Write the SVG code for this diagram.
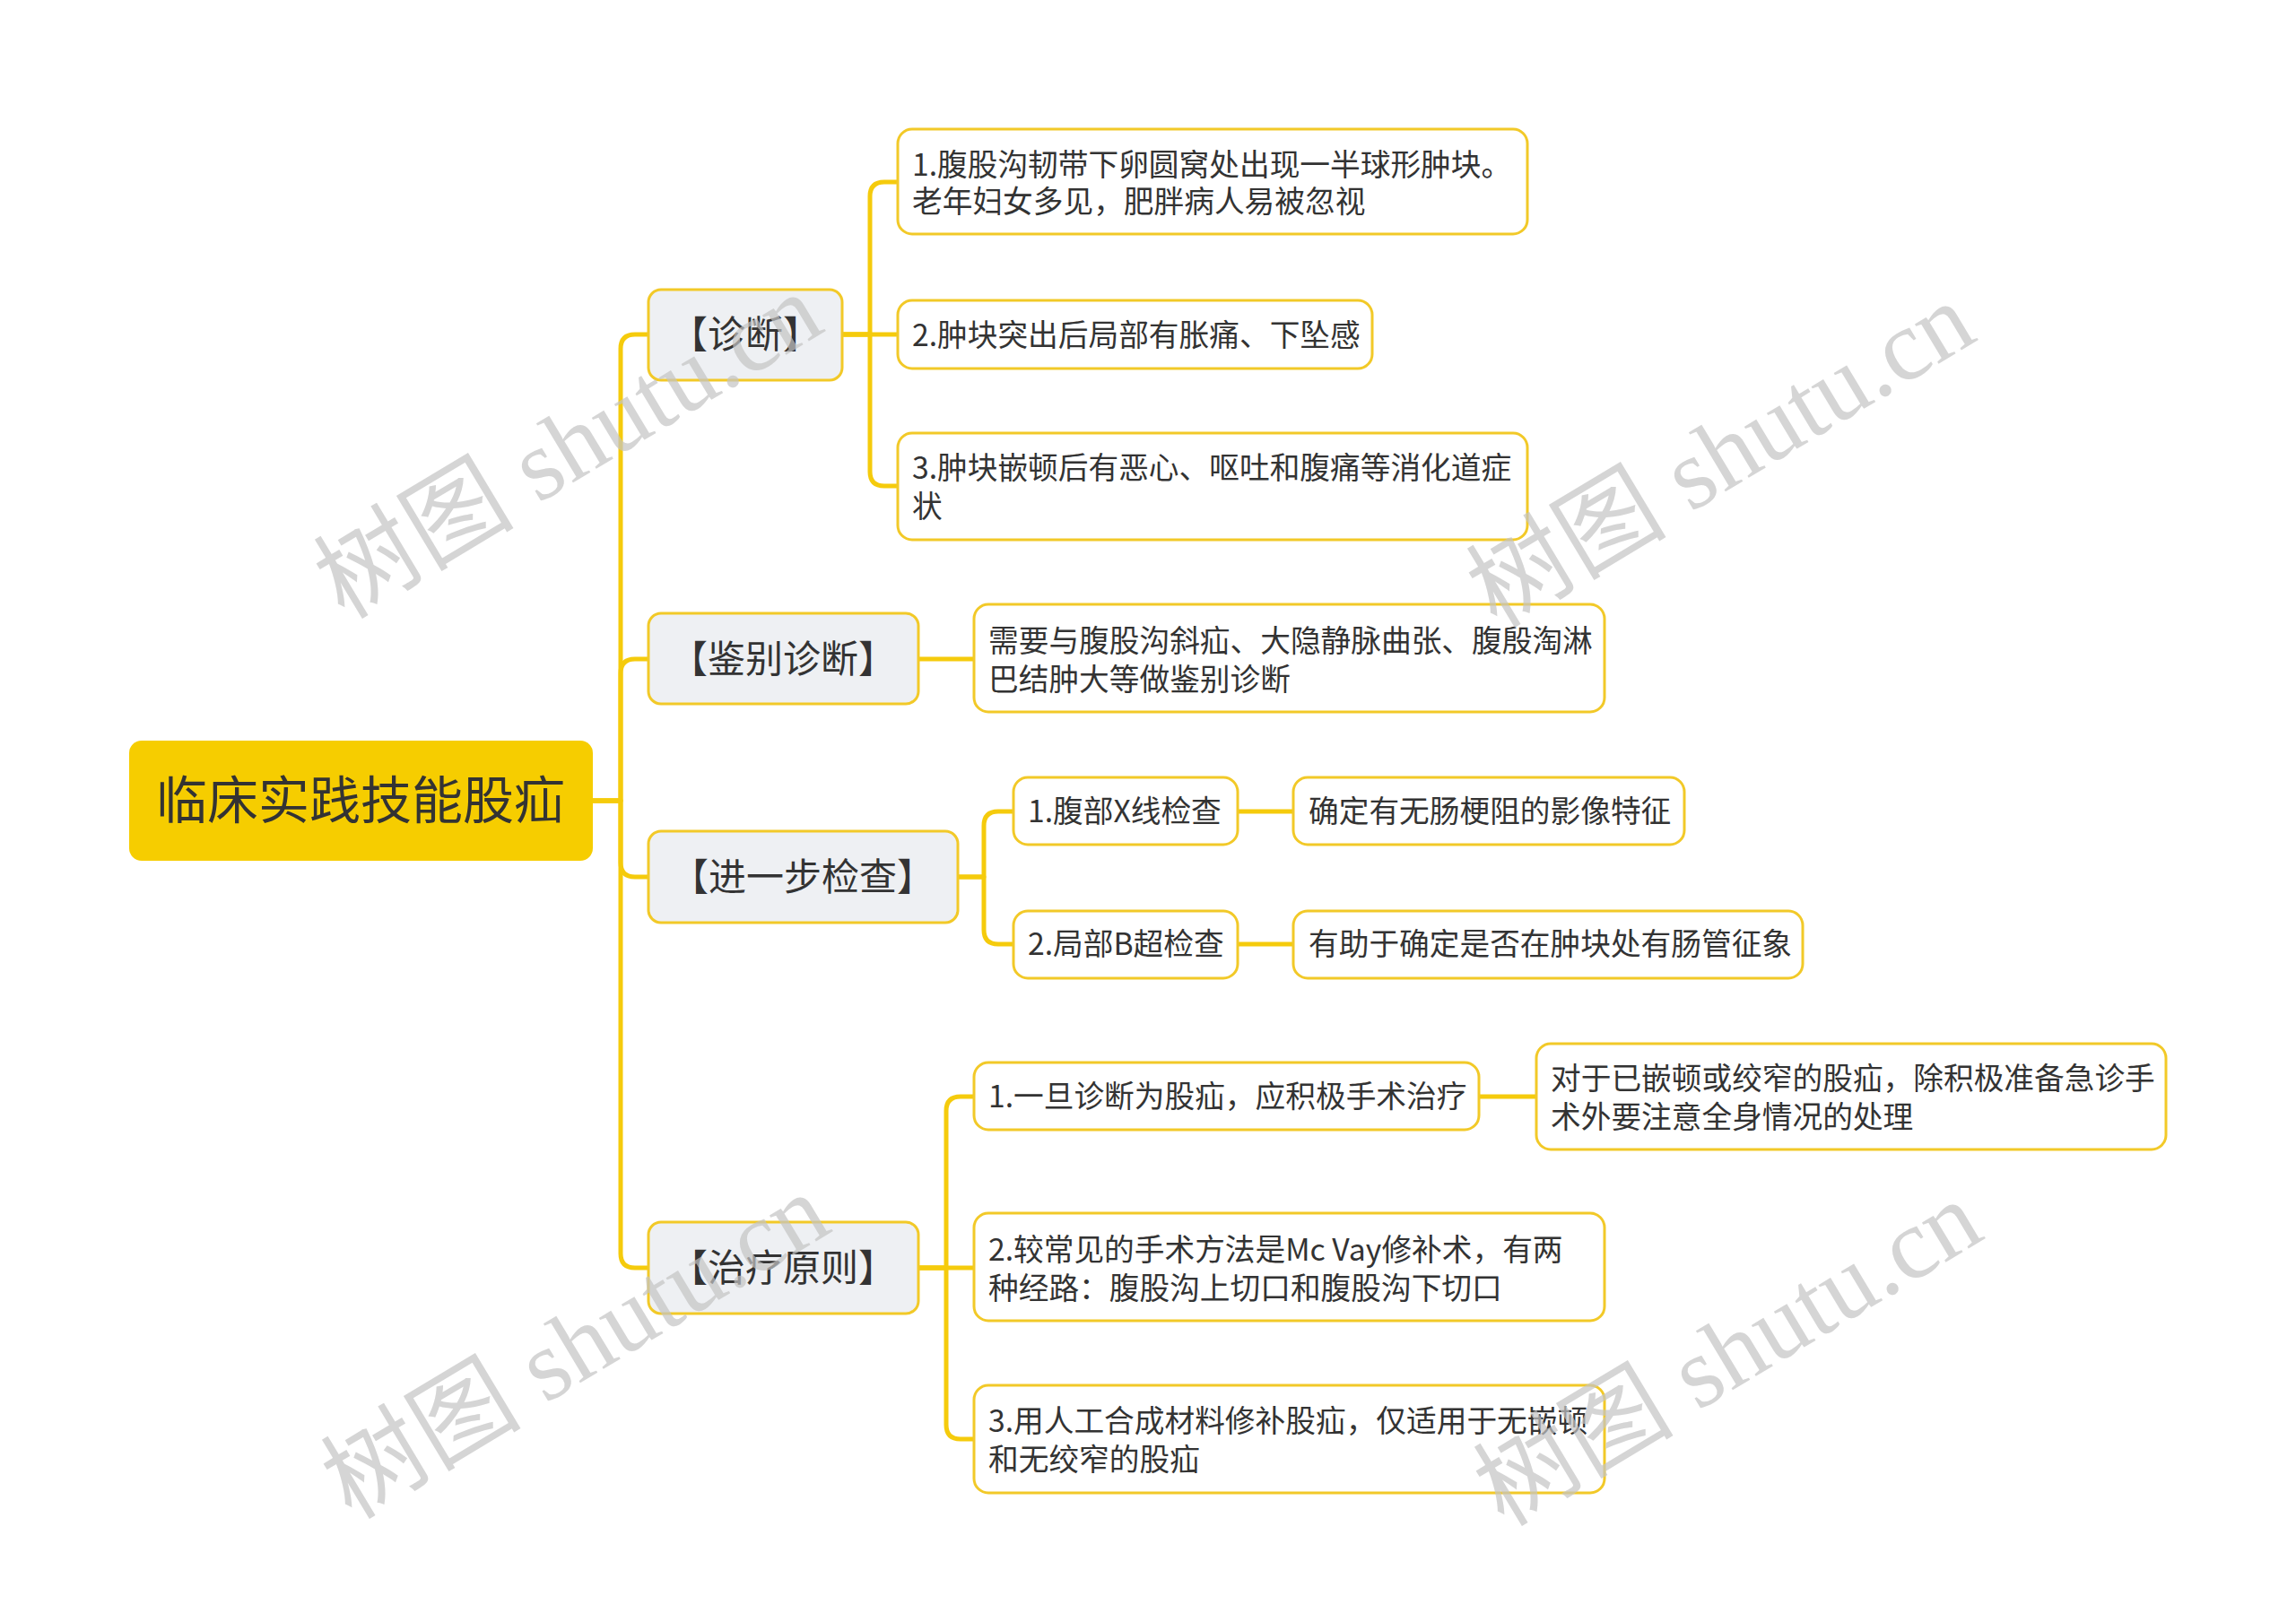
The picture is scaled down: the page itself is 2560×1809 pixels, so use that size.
<svg xmlns="http://www.w3.org/2000/svg" width="2560" height="1809" viewBox="0 0 2560 1809">
<style>
.bg{fill:#ffffff}
.root rect{fill:#f6cd00;stroke:none}
.root text{font-family:"Noto Sans CJK SC","Noto Sans",sans-serif;font-size:57px;fill:#333333;text-anchor:middle}
.l1 rect{fill:#eef0f3;stroke:#f2c928;stroke-width:3}
.l1 text{font-family:"Noto Sans CJK SC","Noto Sans",sans-serif;font-size:42px;fill:#333333;text-anchor:middle}
.l2 rect{fill:#ffffff;stroke:#f2c928;stroke-width:3}
.l2 text{font-family:"Noto Sans CJK SC","Noto Sans",sans-serif;font-size:33.7px;fill:#333333}
.conn path{fill:none;stroke:#f5cb0c;stroke-width:5;stroke-linecap:round;stroke-linejoin:round}
.wm text{font-family:"Liberation Serif","Noto Sans CJK SC",serif;font-size:112px;fill:#c4c4c4;opacity:0.7;text-anchor:middle}
</style>
<rect class="bg" x="0" y="0" width="2560" height="1809"/>

<g id="connectors" class="conn">
  <path d="M661,893 H692 V389 Q692,373 708,373 H723"/>
  <path d="M661,893 H692 V751 Q692,735 708,735 H723"/>
  <path d="M661,893 H692 V962 Q692,978 708,978 H723"/>
  <path d="M661,893 H692 V1398 Q692,1414 708,1414 H723"/>
  <path d="M939,373 H970 V219 Q970,203 986,203 H1001"/>
  <path d="M939,373 H1001"/>
  <path d="M939,373 H970 V526 Q970,542 986,542 H1001"/>
  <path d="M1024,735 H1086"/>
  <path d="M1068,978 H1097 V921 Q1097,905 1113,905 H1130"/>
  <path d="M1068,978 H1097 V1037 Q1097,1053 1113,1053 H1130"/>
  <path d="M1380,905 H1442"/>
  <path d="M1380,1053 H1442"/>
  <path d="M1024,1414 H1055 V1239 Q1055,1223 1071,1223 H1086"/>
  <path d="M1024,1414 H1086"/>
  <path d="M1024,1414 H1055 V1589 Q1055,1605 1071,1605 H1086"/>
  <path d="M1649,1223 H1713"/>
</g>

<g id="root" class="root">
  <rect x="144" y="826" width="517" height="134" rx="14"/>
  <text x="402" y="913">临床实践技能股疝</text>
</g>

<g id="n-zhenduan" class="l1">
  <rect x="723" y="323" width="216" height="101" rx="14"/>
  <text x="831" y="388">【诊断】</text>
</g>
<g id="n-jianbie" class="l1">
  <rect x="723" y="684" width="301" height="101" rx="14"/>
  <text x="873" y="750">【鉴别诊断】</text>
</g>
<g id="n-jinyibu" class="l1">
  <rect x="723" y="927" width="345" height="102" rx="14"/>
  <text x="895" y="993">【进一步检查】</text>
</g>
<g id="n-zhiliao" class="l1">
  <rect x="723" y="1363" width="301" height="102" rx="14"/>
  <text x="873" y="1429">【治疗原则】</text>
</g>

<g id="n-zd1" class="l2">
  <rect x="1001" y="144" width="702" height="117" rx="16"/>
  <text x="1017" y="196">1.腹股沟韧带下卵圆窝处出现一半球形肿块。</text>
  <text x="1017" y="237">老年妇女多见，肥胖病人易被忽视</text>
</g>
<g id="n-zd2" class="l2">
  <rect x="1001" y="335" width="529" height="76" rx="16"/>
  <text x="1017" y="386">2.肿块突出后局部有胀痛、下坠感</text>
</g>
<g id="n-zd3" class="l2">
  <rect x="1001" y="483" width="702" height="119" rx="16"/>
  <text x="1017" y="534">3.肿块嵌顿后有恶心、呕吐和腹痛等消化道症</text>
  <text x="1017" y="577">状</text>
</g>

<g id="n-jb1" class="l2">
  <rect x="1086" y="674" width="703" height="120" rx="16"/>
  <text x="1102" y="727">需要与腹股沟斜疝、大隐静脉曲张、腹殷淘淋</text>
  <text x="1102" y="770">巴结肿大等做鉴别诊断</text>
</g>

<g id="n-jc1" class="l2">
  <rect x="1130" y="867" width="250" height="75" rx="16"/>
  <text x="1146" y="917">1.腹部X线检查</text>
</g>
<g id="n-jc2" class="l2">
  <rect x="1130" y="1016" width="250" height="75" rx="16"/>
  <text x="1146" y="1065">2.局部B超检查</text>
</g>
<g id="n-jc1a" class="l2">
  <rect x="1442" y="867" width="436" height="75" rx="16"/>
  <text x="1459" y="917">确定有无肠梗阻的影像特征</text>
</g>
<g id="n-jc2a" class="l2">
  <rect x="1442" y="1016" width="568" height="75" rx="16"/>
  <text x="1459" y="1065">有助于确定是否在肿块处有肠管征象</text>
</g>

<g id="n-zl1" class="l2">
  <rect x="1086" y="1185" width="563" height="75" rx="16"/>
  <text x="1102" y="1235">1.一旦诊断为股疝，应积极手术治疗</text>
</g>
<g id="n-zl1a" class="l2">
  <rect x="1713" y="1164" width="702" height="118" rx="16"/>
  <text x="1729" y="1215">对于已嵌顿或绞窄的股疝，除积极准备急诊手</text>
  <text x="1729" y="1258">术外要注意全身情况的处理</text>
</g>
<g id="n-zl2" class="l2">
  <rect x="1086" y="1353" width="703" height="120" rx="16"/>
  <text x="1102" y="1406">2.较常见的手术方法是Mc Vay修补术，有两</text>
  <text x="1102" y="1449">种经路：腹股沟上切口和腹股沟下切口</text>
</g>
<g id="n-zl3" class="l2">
  <rect x="1086" y="1545" width="703" height="120" rx="16"/>
  <text x="1102" y="1597">3.用人工合成材料修补股疝，仅适用于无嵌顿</text>
  <text x="1102" y="1640">和无绞窄的股疝</text>
</g>

<g id="watermarks" class="wm">
  <text transform="translate(653,530) rotate(-31)">树图 shutu.cn</text>
  <text transform="translate(1938,540) rotate(-31)">树图 shutu.cn</text>
  <text transform="translate(661,1534) rotate(-31)">树图 shutu.cn</text>
  <text transform="translate(1946,1542) rotate(-31)">树图 shutu.cn</text>
</g>
</svg>
